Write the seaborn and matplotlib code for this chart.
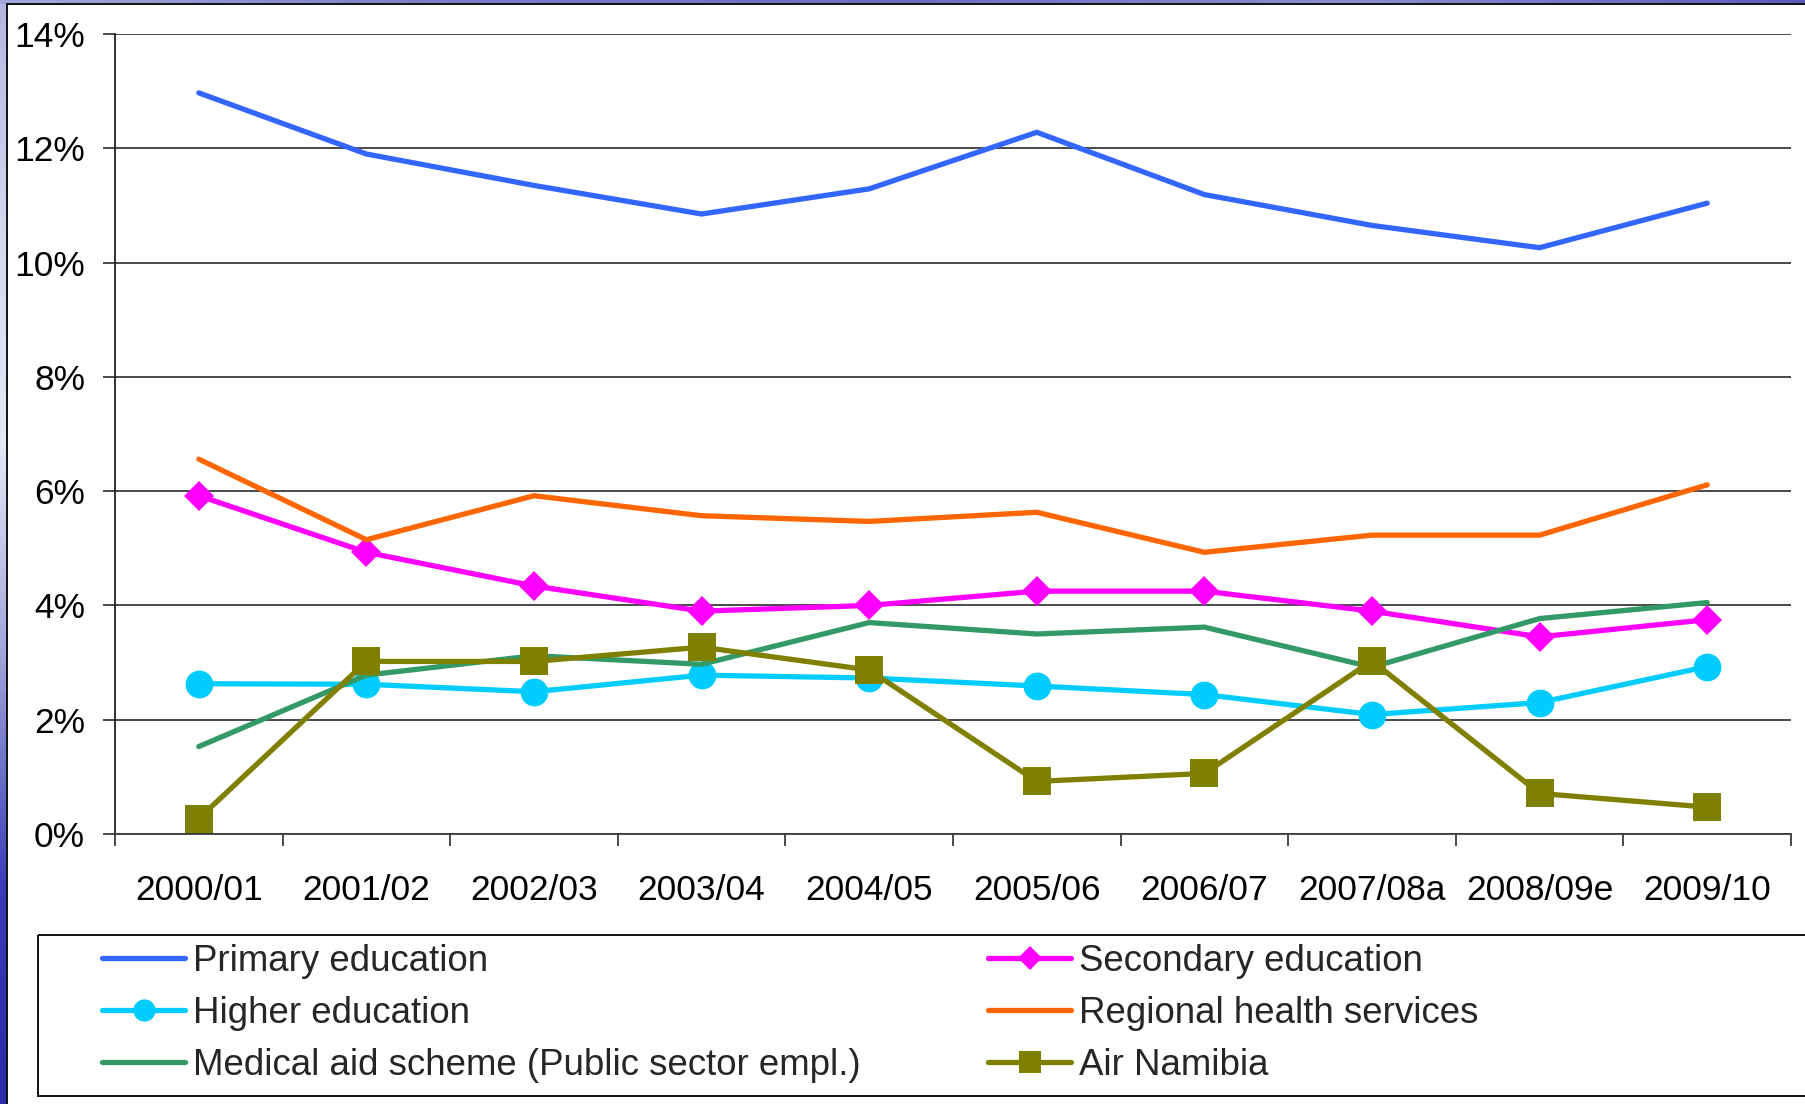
import numpy as np
import pandas as pd
import matplotlib
matplotlib.use("Agg")
import matplotlib.pyplot as plt
from matplotlib.patches import Rectangle
from matplotlib.lines import Line2D
from matplotlib.ticker import FixedLocator, FuncFormatter
import seaborn as sns

# Share of total expenditure by budget item, per fiscal year (%)
years = ["2000/01", "2001/02", "2002/03", "2003/04", "2004/05",
         "2005/06", "2006/07", "2007/08a", "2008/09e", "2009/10"]

primary_education = [12.97, 11.90, 11.35, 10.85, 11.29, 12.28, 11.19, 10.65, 10.26, 11.04]
secondary_education = [5.92, 4.93, 4.34, 3.90, 4.00, 4.25, 4.25, 3.90, 3.45, 3.75]
higher_education = [2.63, 2.62, 2.49, 2.78, 2.73, 2.59, 2.44, 2.09, 2.30, 2.93]
regional_health = [6.56, 5.15, 5.92, 5.57, 5.47, 5.63, 4.93, 5.23, 5.23, 6.11]
medical_aid = [1.53, 2.78, 3.12, 2.97, 3.70, 3.50, 3.62, 2.92, 3.77, 4.05]
air_namibia = [0.27, 3.02, 3.02, 3.27, 2.87, 0.92, 1.06, 3.03, 0.71, 0.47]

y_ticks = [0, 2, 4, 6, 8, 10, 12, 14]

series = [
    ("Primary education", primary_education, "#3366FF", None, 0),
    ("Secondary education", secondary_education, "#FF00FF", "D", 15),
    ("Higher education", higher_education, "#00CCFF", "o", 20),
    ("Regional health services", regional_health, "#FF6600", None, 0),
    ("Medical aid scheme (Public sector empl.)", medical_aid, "#339966", None, 0),
    ("Air Namibia", air_namibia, "#808000", "s", 20),
]

sns.set_theme(style="white")
plt.rcParams["font.family"] = ["Liberation Sans", "DejaVu Sans"]

W, H = 1805, 1104
fig = plt.figure(figsize=(W / 100, H / 100), dpi=100)
fig.patch.set_facecolor("white")

# slide background: blue gradient strips and the white panel
bg = fig.add_axes([0, 0, 1, 1], zorder=-10)
bg.set_xlim(0, W)
bg.set_ylim(H, 0)
bg.axis("off")
vgrad = np.linspace(0, 1, 256).reshape(-1, 1)
left_cmap = matplotlib.colors.LinearSegmentedColormap.from_list(
    "slide_left", ["#b4b6e2", "#d4d6ee", "#e6e8f6", "#9ea2da", "#3a3cb8", "#2a2aa8"])
bg.imshow(vgrad, cmap=left_cmap, extent=(0, 8, H, 0), aspect="auto")
hgrad = np.linspace(0, 1, 256).reshape(1, -1)
top_cmap = matplotlib.colors.LinearSegmentedColormap.from_list(
    "slide_top", ["#a6a8dc", "#7a7cc8", "#6a6cc0", "#8c8ed0", "#5a5cbc"])
bg.imshow(hgrad, cmap=top_cmap, extent=(0, W, 4, 0), aspect="auto")
bg.add_patch(Rectangle((7, 4), W, H, facecolor="white", edgecolor="#111111", lw=1.4))
bg.add_patch(Rectangle((38, 935), W, 161, facecolor="none", edgecolor="#111111", lw=1.4))

ax = fig.add_axes([115 / W, 1 - 834 / H, (1791 - 115) / W, 800 / H])
ax.set_facecolor("none")

for name, vals, color, marker, ms in series:
    df = pd.DataFrame({"year": years, "share": vals})
    sns.lineplot(data=df, x="year", y="share", ax=ax, sort=False, color=color,
                 lw=3.8, marker=marker if marker else None, markersize=ms,
                 markeredgewidth=0, label=name, legend=False,
                 solid_joinstyle="miter" if marker is None else "round")

ax.set_xlim(-0.5, len(years) - 0.5)
ax.set_ylim(0, 14)
ax.set_yticks(y_ticks)
ax.yaxis.set_major_formatter(FuncFormatter(lambda v, p: f"{v:.0f}%"))
ax.set_xlabel("")
ax.set_ylabel("")

ax.yaxis.grid(True, color="#3c3c3c", lw=1.3)
ax.xaxis.grid(False)
for s in ["top", "right"]:
    ax.spines[s].set_visible(False)
ax.spines["left"].set_color("#222222")
ax.spines["left"].set_linewidth(1.3)
ax.spines["bottom"].set_color("#3c3c3c")
ax.spines["bottom"].set_linewidth(1.3)

ax.tick_params(axis="y", which="major", direction="out", length=8.6, width=1.3,
               color="#3c3c3c", pad=13, labelsize=25.5, labelcolor="black", left=True)
ax.xaxis.set_minor_locator(FixedLocator(np.arange(-0.5, len(years), 1.0)))
ax.tick_params(axis="x", which="minor", direction="out", length=8.6, width=1.3,
               color="#3c3c3c", bottom=True)
ax.tick_params(axis="x", which="major", length=0, pad=28.5, labelsize=25.5,
               labelcolor="black")

# legend: two columns inside one outlined box
def handle(color, marker, ms):
    return Line2D([], [], color=color, lw=3.8, marker=marker if marker else None,
                  markersize=ms * 0.8, markeredgewidth=0)

cols = [[series[0], series[2], series[4]], [series[1], series[3], series[5]]]
anchors = [102, 988]
for col, x0 in zip(cols, anchors):
    leg = fig.legend([handle(c, m, s) for _, _, c, m, s in col],
                     [n for n, _, _, _, _ in col],
                     loc="upper left", bbox_to_anchor=(x0 / W, 1 - 944 / H),
                     frameon=False, fontsize=26.4, handlelength=2.27,
                     handletextpad=0.22, labelspacing=0.46, borderpad=0,
                     borderaxespad=0)

fig.savefig("out.png", dpi=100)
